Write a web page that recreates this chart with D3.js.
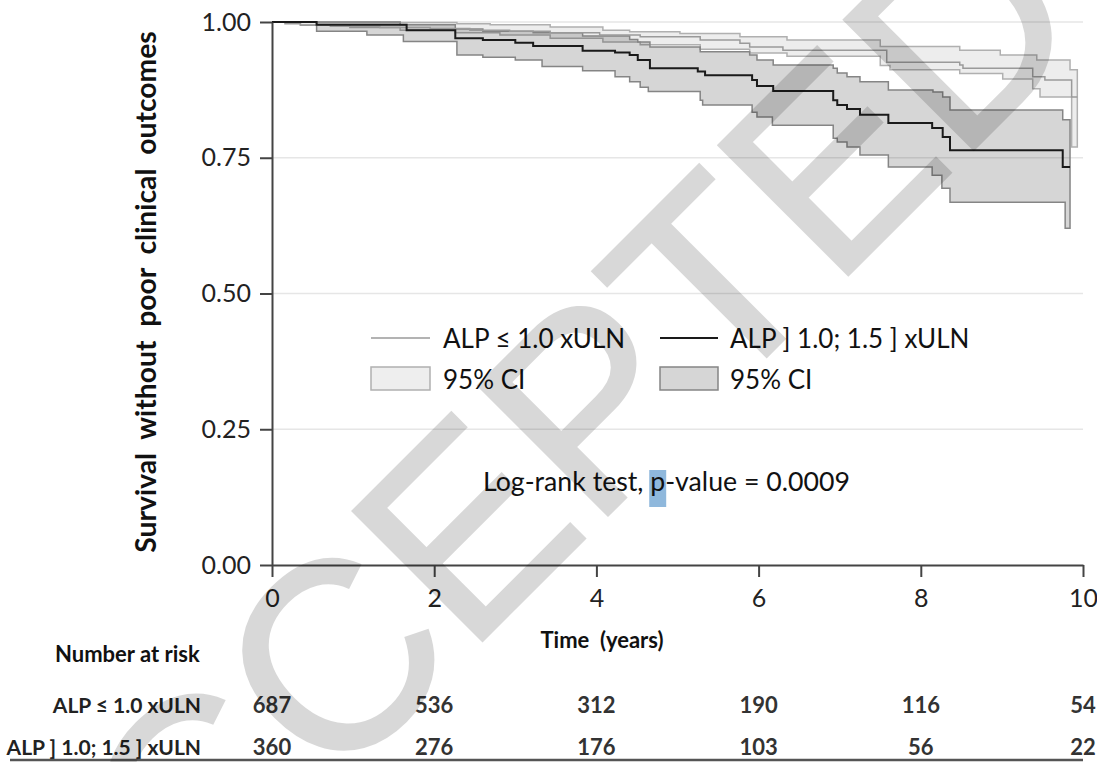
<!DOCTYPE html>
<html>
<head>
<meta charset="utf-8">
<script src="https://cdn.jsdelivr.net/npm/d3@7"></script>
<style>
  body { margin: 0; background: #fff; }
  svg { display: block; font-family: Lato, "Open Sans", sans-serif; }
</style>
</head>
<body>
<div id="chart"></div>
<script>
// Kaplan-Meier steps: [time in years], [survival]
const lightTime  = [0, 0.16, 0.35, 0.72, 1.33, 1.95, 2.44, 2.93, 3.43, 4.04, 4.54, 5.28, 5.77, 5.89, 6.30, 7.58, 8.48, 8.52, 9.38, 9.53, 9.86, 9.93];
const lightSurv  = [1, 0.997, 0.994, 0.992, 0.990, 0.988, 0.985, 0.983, 0.980, 0.976, 0.973, 0.967, 0.961, 0.954, 0.948, 0.926, 0.921, 0.915, 0.899, 0.893, 0.862, 0.862];
const lightUpTime = [0, 1.58, 2.28, 2.69, 3.43, 4.08, 4.41, 5.03, 5.77, 6.35, 7.50, 8.48, 8.98, 9.43, 9.84, 9.93];
const lightUp     = [1, 0.999, 0.997, 0.995, 0.991, 0.985, 0.982, 0.979, 0.973, 0.967, 0.955, 0.948, 0.939, 0.930, 0.912, 0.912];
const lightLoTime = [0, 0.35, 0.96, 1.58, 2.26, 2.81, 3.43, 4.08, 4.54, 5.28, 5.89, 6.35, 7.50, 7.62, 8.48, 9.01, 9.38, 9.47, 9.86, 9.93];
const lightLo     = [1, 0.995, 0.990, 0.985, 0.980, 0.976, 0.970, 0.963, 0.958, 0.950, 0.943, 0.937, 0.920, 0.912, 0.905, 0.895, 0.877, 0.862, 0.770, 0.770];

const darkTime = [0, 0.55, 1.66, 2.26, 2.60, 3.00, 3.22, 3.83, 4.23, 4.41, 4.51, 4.66, 5.25, 5.34, 5.92, 5.98, 6.18, 6.92, 6.97, 7.09, 7.25, 7.60, 8.14, 8.27, 8.36, 9.75, 9.84];
const darkSurv = [1, 0.995, 0.985, 0.970, 0.967, 0.962, 0.956, 0.947, 0.944, 0.939, 0.930, 0.915, 0.909, 0.902, 0.893, 0.882, 0.873, 0.856, 0.847, 0.840, 0.829, 0.814, 0.805, 0.788, 0.764, 0.733, 0.733];
const darkUpTime = [0, 1.58, 2.26, 2.60, 3.22, 3.83, 4.41, 4.51, 4.66, 5.28, 5.89, 5.98, 6.18, 6.92, 6.97, 7.09, 7.25, 7.60, 8.15, 8.27, 8.36, 9.75, 9.84];
const darkUp     = [1, 0.995, 0.987, 0.983, 0.980, 0.974, 0.968, 0.963, 0.954, 0.945, 0.939, 0.930, 0.921, 0.915, 0.906, 0.899, 0.890, 0.875, 0.871, 0.862, 0.838, 0.820, 0.820];
const darkLoTime = [0, 0.55, 1.17, 1.62, 2.28, 2.60, 3.00, 3.33, 3.83, 4.23, 4.41, 4.54, 4.64, 5.28, 5.31, 5.92, 5.98, 6.17, 6.92, 6.97, 7.09, 7.25, 7.60, 8.14, 8.26, 8.36, 9.78, 9.84];
const darkLo     = [1, 0.983, 0.976, 0.964, 0.939, 0.935, 0.930, 0.918, 0.910, 0.899, 0.890, 0.880, 0.872, 0.856, 0.847, 0.834, 0.825, 0.810, 0.786, 0.779, 0.770, 0.755, 0.733, 0.718, 0.694, 0.668, 0.620, 0.620];

// axes and risk table
const xTicks = [0, 2, 4, 6, 8, 10];
const yTicks = [0, 0.25, 0.5, 0.75, 1];
const groupNames = ["ALP \u2264 1.0 xULN", "ALP ] 1.0; 1.5 ] xULN"];
const riskLight = [687, 536, 312, 190, 116, 54];
const riskDark  = [360, 276, 176, 103, 56, 22];

const W = 1097, H = 762;
const x = d3.scaleLinear().domain([0, 10]).range([272, 1083]);
const y = d3.scaleLinear().domain([0, 1]).range([565, 22]);

const svg = d3.select("#chart").append("svg")
  .attr("width", W)
  .attr("height", H);

// gridlines
svg.append("g")
  .selectAll("line")
  .data(yTicks.filter(d => d > 0))
  .join("line")
    .attr("x1", x(0)).attr("x2", x(10))
    .attr("y1", d => y(d)).attr("y2", d => y(d))
    .attr("stroke", "#e6e6e6")
    .attr("stroke-width", 1.5);

// step helpers
const toPts = (ts, vs) => ts.map((t, i) => ({ t: t, v: vs[i] }));
function stepAt(ts, vs, t) {
  const i = d3.bisectRight(ts, t) - 1;
  return vs[Math.max(0, i)];
}
function bandPts(tU, vU, tL, vL) {
  const all = Array.from(new Set(tU.concat(tL))).sort((a, b) => a - b);
  return all.map(t => ({ t: t, hi: stepAt(tU, vU, t), lo: stepAt(tL, vL, t) }));
}

const area = d3.area()
  .curve(d3.curveStepAfter)
  .x(d => x(d.t))
  .y0(d => y(d.lo))
  .y1(d => y(d.hi));

const line = d3.line()
  .curve(d3.curveStepAfter)
  .x(d => x(d.t))
  .y(d => y(d.v));

// confidence bands
svg.append("path")
  .datum(bandPts(lightUpTime, lightUp, lightLoTime, lightLo))
  .attr("d", area)
  .attr("fill", "rgba(0,0,0,0.07)")
  .attr("stroke", "#b0b0b0")
  .attr("stroke-width", 1.5);

svg.append("path")
  .datum(bandPts(darkUpTime, darkUp, darkLoTime, darkLo))
  .attr("d", area)
  .attr("fill", "rgba(0,0,0,0.16)")
  .attr("stroke", "#858585")
  .attr("stroke-width", 1.5);

// survival curves
svg.append("path")
  .datum(toPts(lightTime, lightSurv))
  .attr("d", line)
  .attr("fill", "none")
  .attr("stroke", "#9a9a9a")
  .attr("stroke-width", 1.5);

svg.append("path")
  .datum(toPts(darkTime, darkSurv))
  .attr("d", line)
  .attr("fill", "none")
  .attr("stroke", "#1a1a1a")
  .attr("stroke-width", 2);

// axes
const yAxis = svg.append("g")
  .attr("transform", `translate(${x(0)},0)`)
  .call(d3.axisLeft(y).tickValues(yTicks).tickFormat(d3.format(".2f")).tickSize(12).tickSizeOuter(0).tickPadding(9));

const xAxis = svg.append("g")
  .attr("transform", `translate(0,${y(0)})`)
  .call(d3.axisBottom(x).tickValues(xTicks).tickFormat(d3.format("d")).tickSize(12).tickSizeOuter(0).tickPadding(12));

[yAxis, xAxis].forEach(g => {
  g.selectAll("path, line").attr("stroke", "#444").attr("stroke-width", 2);
  g.selectAll("text")
    .attr("fill", "#222")
    .style("font-size", "25px")
    .style("font-family", "Lato, sans-serif");
});

// axis titles
svg.append("text")
  .attr("transform", "translate(156,292) rotate(-90)")
  .attr("text-anchor", "middle")
  .style("font-size", "28.3px")
  .style("font-weight", "bold")
  .style("white-space", "pre")
  .attr("fill", "#111")
  .text("Survival  without  poor  clinical  outcomes");

svg.append("text")
  .attr("x", 602)
  .attr("y", 648)
  .attr("text-anchor", "middle")
  .style("font-size", "22px")
  .style("font-weight", "bold")
  .style("white-space", "pre")
  .attr("fill", "#111")
  .text("Time  (years)");

// legend
const legend = svg.append("g").style("font-size", "26px").attr("fill", "#111");
legend.append("line")
  .attr("x1", 371).attr("x2", 430).attr("y1", 338).attr("y2", 338)
  .attr("stroke", "#9a9a9a").attr("stroke-width", 1.5);
legend.append("text").attr("x", 443).attr("y", 348).text(groupNames[0]);
legend.append("line")
  .attr("x1", 660).attr("x2", 718).attr("y1", 338).attr("y2", 338)
  .attr("stroke", "#1a1a1a").attr("stroke-width", 2);
legend.append("text").attr("x", 730).attr("y", 348).text(groupNames[1]);
legend.append("rect")
  .attr("x", 371).attr("y", 367).attr("width", 59).attr("height", 23)
  .attr("fill", "#eeeeee").attr("stroke", "#b0b0b0").attr("stroke-width", 1.5);
legend.append("text").attr("x", 443).attr("y", 389).text("95% CI");
legend.append("rect")
  .attr("x", 660).attr("y", 367).attr("width", 58).attr("height", 23)
  .attr("fill", "#d6d6d6").attr("stroke", "#858585").attr("stroke-width", 1.5);
legend.append("text").attr("x", 730).attr("y", 389).text("95% CI");

// log-rank annotation with highlighted "p"
const hl = svg.append("rect").attr("fill", "#8fb8dc");
const lr = svg.append("text")
  .attr("x", 483)
  .attr("y", 491)
  .style("font-size", "26.7px")
  .attr("fill", "#111")
  .text("Log-rank test, p-value = 0.0009");
const ext = lr.node().getExtentOfChar(15);
hl.attr("x", ext.x - 1).attr("width", ext.width + 2).attr("y", 470).attr("height", 37);

// number at risk table
svg.append("text")
  .attr("x", 55).attr("y", 662)
  .style("font-size", "22px").style("font-weight", "bold")
  .attr("fill", "#111")
  .text("Number at risk");

const rows = [riskLight, riskDark];
const rowY = [713, 755];
rows.forEach((vals, r) => {
  svg.append("text")
    .attr("x", 201).attr("y", rowY[r])
    .attr("text-anchor", "end")
    .style("font-size", "21px").style("font-weight", "bold")
    .attr("fill", "#222")
    .text(groupNames[r]);
  svg.append("g")
    .selectAll("text")
    .data(vals)
    .join("text")
      .attr("x", (d, i) => x(xTicks[i]))
      .attr("y", rowY[r])
      .attr("text-anchor", "middle")
      .style("font-size", "22px").style("font-weight", "bold")
      .attr("fill", "#333")
      .text(d => d);
});

svg.append("line")
  .attr("x1", 10).attr("x2", 1083)
  .attr("y1", 760).attr("y2", 760)
  .attr("stroke", "#555").attr("stroke-width", 2.5);

// watermark
svg.append("text")
  .attr("transform", "translate(70,1053) rotate(-45)")
  .style("font-family", "'Liberation Sans', Arial, sans-serif")
  .style("font-size", "266px")
  .attr("fill", "#000")
  .attr("stroke", "#000")
  .attr("stroke-width", 3)
  .attr("opacity", 0.15)
  .text("ACCEPTED");
</script>
</body>
</html>
